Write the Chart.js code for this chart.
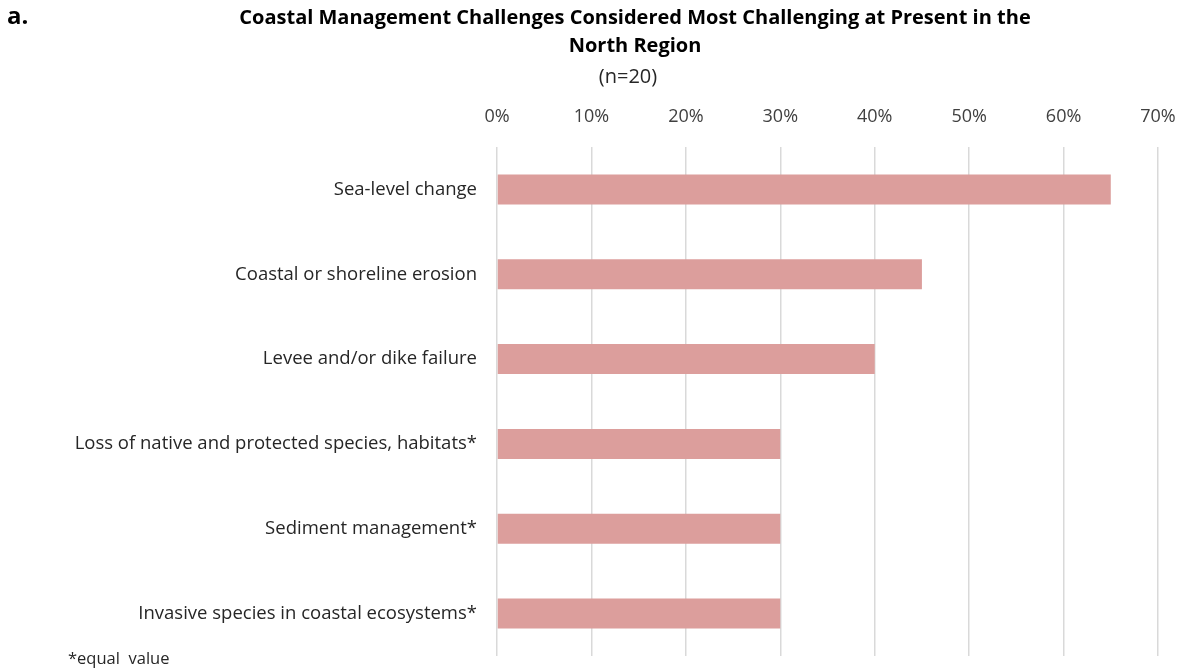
<!DOCTYPE html>
<html>
<head>
<meta charset="utf-8">
<script src="https://cdn.jsdelivr.net/npm/chart.js@4"></script>
<style>
  html, body { margin: 0; padding: 0; background: #fff; }
  #wrap { width: 1188px; height: 671px; position: relative; }
</style>
</head>
<body>
<div id="wrap"><canvas id="myChart"></canvas></div>
<script>
const categories = [
  'Sea-level change',
  'Coastal or shoreline erosion',
  'Levee and/or dike failure',
  'Loss of native and protected species, habitats*',
  'Sediment management*',
  'Invasive species in coastal ecosystems*'
];
const shares = [65, 45, 40, 30, 30, 30];
const tickValues = [0, 10, 20, 30, 40, 50, 60, 70];
const titleLines = ['Coastal Management Challenges Considered Most Challenging at Present in the', 'North Region'];
const subtitleText = '(n=20)';
const panelLabel = 'a.';
const footNote = '*equal  value';

const FONT = "'Open Sans', 'Noto Sans', sans-serif";

// headings and footnote drawn as text on the canvas
const textPlugin = {
  id: 'texts',
  afterDraw(chart) {
    const c = chart.ctx;
    c.save();
    c.fillStyle = '#000';
    c.textBaseline = 'middle';
    c.textAlign = 'left';
    c.font = 'bold 24px ' + FONT;
    c.fillText(panelLabel, 7, 17);
    c.textAlign = 'center';
    c.font = 'bold 20px ' + FONT;
    c.fillText(titleLines[0], 635, 18);
    c.fillText(titleLines[1], 635, 46);
    c.font = '20px ' + FONT;
    c.fillStyle = '#262626';
    c.fillText(subtitleText, 628, 77);
    c.textAlign = 'left';
    c.font = '16.5px ' + FONT;
    c.fillText(footNote, 68, 659);
    c.restore();
  }
};

const config = {
  type: 'bar',
  data: {
    labels: categories,
    datasets: [{
      data: shares,
      backgroundColor: '#dc9e9c',
      barPercentage: 0.354,
      categoryPercentage: 1
    }]
  },
  options: {
    indexAxis: 'y',
    responsive: true,
    maintainAspectRatio: false,
    animation: false,
    layout: { padding: { top: 100, right: 30, bottom: 15, left: 0 } },
    plugins: {
      legend: { display: false },
      tooltip: { enabled: false }
    },
    scales: {
      x: {
        position: 'top',
        min: 0,
        max: 70,
        afterBuildTicks: (scale) => { scale.ticks = tickValues.map(v => ({ value: v })); },
        afterFit: (scale) => { scale.height = 47; scale.paddingLeft = 0; scale.paddingRight = 0; },
        grid: { color: '#d9d9d9', lineWidth: 1.5, drawTicks: false },
        border: { display: false },
        ticks: {
          padding: 19,
          color: '#404040',
          font: { family: FONT, size: 18 },
          callback: (v) => v + '%'
        }
      },
      y: {
        afterFit: (scale) => { scale.width = 497; scale.paddingTop = 0; scale.paddingBottom = 0; },
        grid: { display: false, drawTicks: false },
        border: { display: false },
        ticks: {
          padding: 20,
          color: '#262626',
          font: { family: FONT, size: 18.5 }
        }
      }
    }
  },
  plugins: [textPlugin]
};

var ctx = document.getElementById('myChart').getContext('2d');
grafica = new Chart(ctx, config);
</script>
</body>
</html>
